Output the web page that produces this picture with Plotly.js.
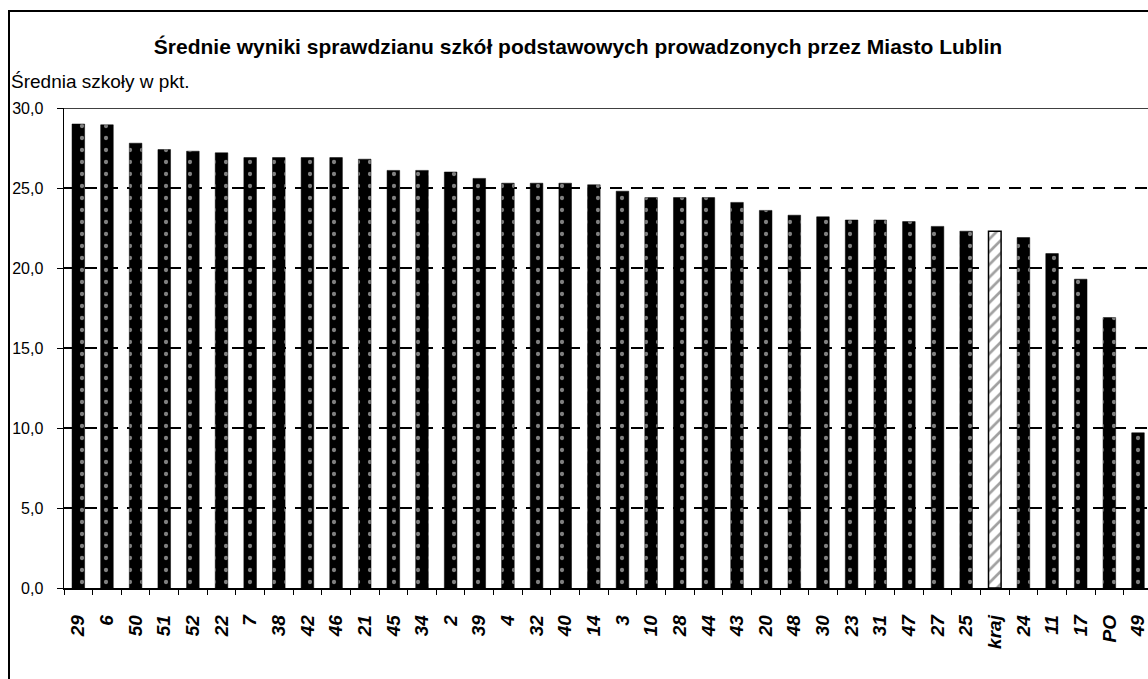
<!DOCTYPE html>
<html>
<head>
<meta charset="utf-8">
<script src="https://cdn.plot.ly/plotly-3.0.1.min.js"></script>
<style>
html,body{margin:0;padding:0;background:#fff;}
#chart{width:1148px;height:679px;}
</style>
</head>
<body>
<div id="chart"></div>
<script>
// Data
const schools = ["29","6","50","51","52","22","7","38","42","46","21","45","34","2","39","4","32","40","14","3","10","28","44","43","20","48","30","23","31","47","27","25","kraj","24","11","17","PO","49"];
const averages = [29.0,28.95,27.8,27.4,27.3,27.2,26.9,26.9,26.9,26.9,26.8,26.1,26.1,26.0,25.6,25.3,25.3,25.3,25.2,24.8,24.4,24.4,24.4,24.1,23.6,23.3,23.2,23.0,23.0,22.9,22.6,22.3,22.3,21.9,20.9,19.3,16.9,9.7];
const highlight = "kraj";
const yTicks = [0,5,10,15,20,25,30];
const titleText = "Średnie wyniki sprawdzianu szkół podstawowych prowadzonych przez Miasto Lublin";
const yTitleText = "Średnia szkoły w pkt.";

const isK = schools.map(s => s === highlight);

const trace = {
  type: "bar",
  x: schools,
  y: averages,
  width: 0.44,
  hoverinfo: "x+y",
  marker: {
    color: isK.map(k => k ? "#ffffff" : "#000000"),
    line: { color: "#000000", width: isK.map(k => k ? 1.5 : 0.5) },
    pattern: {
      shape: isK.map(k => k ? "/" : "."),
      bgcolor: isK.map(k => k ? "#ffffff" : "#000000"),
      fgcolor: isK.map(k => k ? "#000000" : "#ffffff"),
      size: isK.map(k => k ? 9 : 12),
      solidity: isK.map(k => k ? 0.3 : 0.1),
      fillmode: "overlay"
    }
  }
};

const W = 1148, H = 679, L = 64, T = 108, B = 91;
const pw = W - L, ph = H - T - B;
const px = v => (v - L) / pw;
const py = v => (H - B - v) / ph;
const slot = 28.64;

const layout = {
  width: W, height: H,
  margin: { l: L, r: 0, t: T, b: B },
  paper_bgcolor: "#ffffff",
  plot_bgcolor: "#ffffff",
  showlegend: false,
  separators: ",.",
  font: { family: "Liberation Sans, Arial, sans-serif", color: "#000000" },
  title: {
    text: titleText,
    font: { family: "Liberation Sans, Arial, sans-serif", size: 21, weight: "bold", color: "#000" },
    xref: "container", yref: "container",
    x: 578 / W, xanchor: "center",
    y: 1 - 47 / H, yanchor: "middle"
  },
  xaxis: {
    type: "category",
    range: [-0.5, -0.5 + pw / slot],
    showline: true, linecolor: "#000", linewidth: 1.5,
    ticks: "outside", tickson: "boundaries", ticklen: 5, tickcolor: "#000", tickwidth: 1,
    tickangle: -90,
    ticklabelstandoff: 18,
    tickfont: { family: "Liberation Sans, Arial, sans-serif", size: 19, weight: "bold", style: "italic", color: "#000" },
    showgrid: false, zeroline: false, fixedrange: true
  },
  yaxis: {
    range: [0, 30],
    tickvals: yTicks,
    tickformat: ".1f",
    showline: true, linecolor: "#000", linewidth: 1.5,
    ticks: "outside", ticklen: 6, tickcolor: "#000", tickwidth: 1,
    ticklabelstandoff: 10,
    tickfont: { family: "Liberation Sans, Arial, sans-serif", size: 16, color: "#000" },
    showgrid: true, gridcolor: "#000", gridwidth: 1.2, griddash: "12px,9px",
    zeroline: false, fixedrange: true
  },
  annotations: [{
    text: yTitleText,
    xref: "paper", yref: "paper",
    x: px(9), y: py(82),
    xanchor: "left", yanchor: "middle",
    showarrow: false,
    font: { family: "Liberation Sans, Arial, sans-serif", size: 19, color: "#000" }
  }],
  shapes: [
    { type: "line", xref: "paper", yref: "y", x0: 0, x1: 1, y0: 30, y1: 30,
      line: { color: "#000", width: 1.5 } },
    { type: "rect", xref: "paper", yref: "paper",
      x0: px(9), x1: 1.1, y0: -0.5, y1: py(11),
      line: { color: "#000", width: 2 }, fillcolor: "rgba(0,0,0,0)", layer: "above" }
  ]
};

Plotly.newPlot("chart", [trace], layout, { staticPlot: true, displayModeBar: false });
</script>
</body>
</html>
